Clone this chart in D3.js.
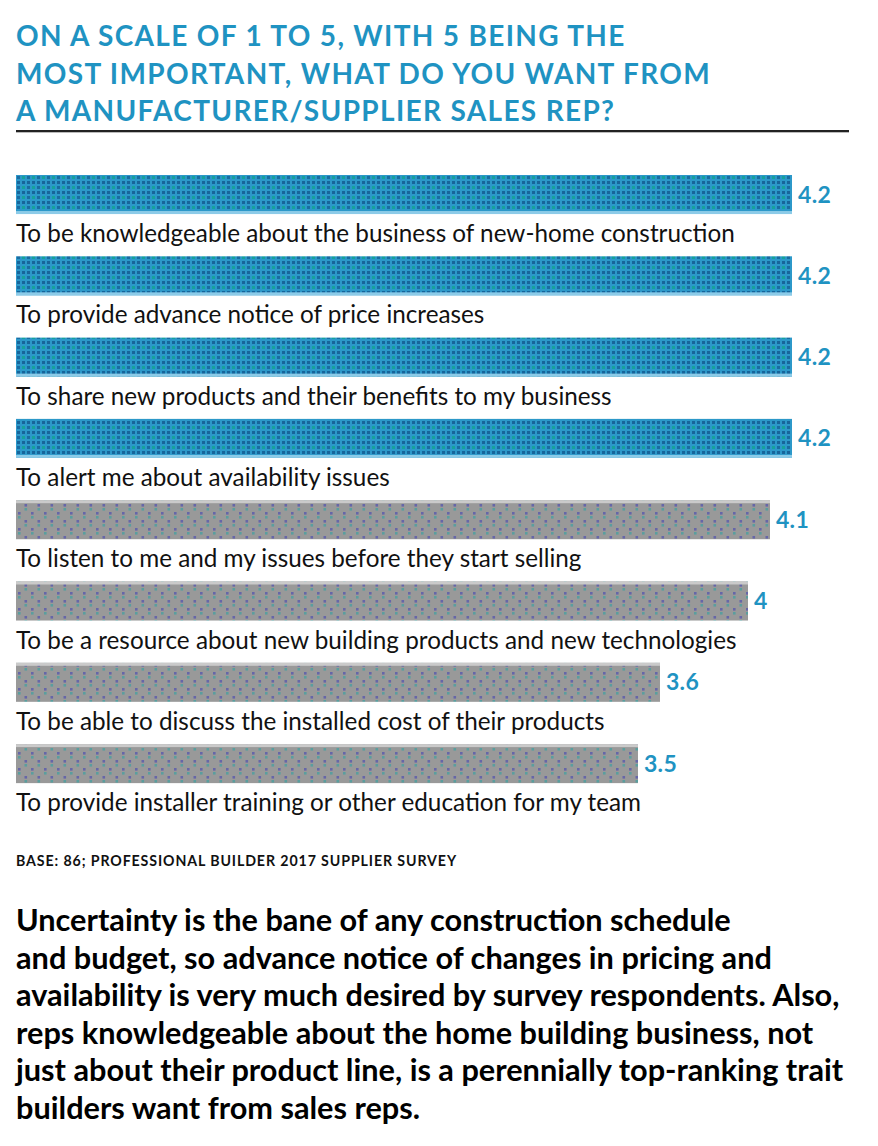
<!DOCTYPE html>
<html><head><meta charset="utf-8">
<script src="https://cdn.jsdelivr.net/npm/d3@7/dist/d3.min.js"></script>
<style>
html,body{margin:0;padding:0;background:#fff;}
svg{display:block;}
</style></head>
<body>
<script>
const titleLines = [
  "ON A SCALE OF 1 TO 5, WITH 5 BEING THE",
  "MOST IMPORTANT, WHAT DO YOU WANT FROM",
  "A MANUFACTURER/SUPPLIER SALES REP?"
];
const categories = [
  "To be knowledgeable about the business of new-home construction",
  "To provide advance notice of price increases",
  "To share new products and their benefits to my business",
  "To alert me about availability issues",
  "To listen to me and my issues before they start selling",
  "To be a resource about new building products and new technologies",
  "To be able to discuss the installed cost of their products",
  "To provide installer training or other education for my team"
];
const values = [4.2, 4.2, 4.2, 4.2, 4.1, 4.0, 3.6, 3.5];
const valueLabels = ["4.2", "4.2", "4.2", "4.2", "4.1", "4", "3.6", "3.5"];
const highlighted = [true, true, true, true, false, false, false, false];
const sourceNote = "BASE: 86; PROFESSIONAL BUILDER 2017 SUPPLIER SURVEY";
const paragraphLines = [
  "Uncertainty is the bane of any construction schedule",
  "and budget, so advance notice of changes in pricing and",
  "availability is very much desired by survey respondents. Also,",
  "reps knowledgeable about the home building business, not",
  "just about their product line, is a perennially top-ranking trait",
  "builders want from sales reps."
];

const W = 878, H = 1146;
const svg = d3.select("body").append("svg").attr("width", W).attr("height", H);
const defs = svg.append("defs");

// blue pattern
const pb = defs.append("pattern").attr("id", "pBlue").attr("patternUnits", "userSpaceOnUse")
  .attr("width", 10).attr("height", 10).attr("x", 16).attr("y", 0);
pb.append("rect").attr("width", 10).attr("height", 10).attr("fill", "#2c98c9");
[[1,1,"#17659b"],[6,1,"#17659b"],[1,6,"#1a6ca2"],[6,6,"#15a29c"]].forEach(([x,y,c]) =>
  pb.append("rect").attr("x", x).attr("y", y).attr("width", 3).attr("height", 3).attr("fill", c));

// gray pattern
const pg = defs.append("pattern").attr("id", "pGray").attr("patternUnits", "userSpaceOnUse")
  .attr("width", 13).attr("height", 16).attr("x", 18).attr("y", 0);
pg.append("rect").attr("width", 13).attr("height", 16).attr("fill", "#999999");
[[0,0,"#6666a8"],[0,4,"#5a9e9e"],[6.5,8,"#6666a8"],[6.5,12,"#5a9e9e"]].forEach(([x,y,c]) =>
  pg.append("rect").attr("x", x).attr("y", y).attr("width", 2.6).attr("height", 2.6).attr("fill", c));

const left = 16;
const blue = "#1f93c2";

// Title
const title = svg.append("g");
title.selectAll("text").data(titleLines).join("text")
  .attr("x", left).attr("y", (d, i) => 46 + i * 37.5)
  .attr("font-family", "Lato, 'Open Sans', sans-serif")
  .attr("font-weight", 700).attr("font-size", 28)
  .attr("letter-spacing", 1.6)
  .attr("fill", blue).text(d => d);

svg.append("line").attr("x1", left).attr("x2", 849).attr("y1", 131).attr("y2", 131)
  .attr("stroke", "#222").attr("stroke-width", 2);
svg.append("line").attr("x1", left).attr("x2", 849).attr("y1", 132.5).attr("y2", 132.5)
  .attr("stroke", "#bbb").attr("stroke-width", 1);

// Scales
const x = d3.scaleLinear().domain([0.673, 4.2]).range([left, 792]);
const n = categories.length;
const step = 81.3;
const y = d3.scaleBand().domain(categories)
  .range([175 - 0.26 * step, 175 - 0.26 * step + n * step])
  .paddingInner(0.52).paddingOuter(0.26);
const bh = y.bandwidth();

const rows = svg.append("g").selectAll("g").data(categories).join("g");
rows.append("rect")
  .attr("x", x(x.domain()[0])).attr("y", d => y(d))
  .attr("width", (d, i) => x(values[i]) - x(x.domain()[0]))
  .attr("height", bh)
  .attr("fill", (d, i) => highlighted[i] ? "url(#pBlue)" : "url(#pGray)");
// edge strips
rows.append("rect")
  .attr("x", x(x.domain()[0]))
  .attr("y", (d, i) => highlighted[i] ? y(d) + bh - 3 : y(d))
  .attr("width", (d, i) => x(values[i]) - x(x.domain()[0]))
  .attr("height", 3)
  .attr("fill", (d, i) => highlighted[i] ? "#8ccbe8" : "#cacaca");

rows.append("text")
  .attr("x", (d, i) => x(values[i]) + 6)
  .attr("y", d => y(d) + bh / 2 + 8)
  .attr("font-family", "Lato, sans-serif").attr("font-weight", 700)
  .attr("font-size", 23).attr("letter-spacing", 0.3).attr("fill", blue)
  .text((d, i) => valueLabels[i]);

const catText = rows.append("text")
  .attr("x", left).attr("y", d => y(d) + bh + 28)
  .attr("font-family", "Lato, sans-serif").attr("font-weight", 400)
  .attr("font-size", 21.5).attr("fill", "#111")
  .text(d => d);

// fit category font to reference width of first label
{
  const w0 = catText.nodes()[0].getComputedTextLength();
  const fs = 21.5 * (719 / w0);
  catText.attr("font-size", fs);
}

const note = svg.append("text").attr("x", left).attr("y", 866)
  .attr("font-family", "Lato, sans-serif").attr("font-weight", 700)
  .attr("font-size", 14.2).attr("letter-spacing", 0.6).attr("fill", "#111")
  .text(sourceNote);
{
  const w = note.node().getComputedTextLength();
  note.attr("letter-spacing", 0.6 + (441 - w) / sourceNote.length);
}

const para = svg.append("g").selectAll("text").data(paragraphLines).join("text")
  .attr("x", left).attr("y", (d, i) => 931 + i * 37.6)
  .attr("font-family", "Lato, sans-serif").attr("font-weight", 700)
  .attr("font-size", 25).attr("fill", "#000").text(d => d);
{
  const w = para.nodes()[2].getComputedTextLength();
  para.attr("font-size", 25 * (824 / w));
}
// fit title letter spacing to reference width of line 2
{
  const t = title.selectAll("text").nodes();
  const w = t[1].getComputedTextLength();
  const chars = titleLines[1].length;
  const ls = 1.6 + (695 - w) / chars;
  title.selectAll("text").attr("letter-spacing", ls);
}
</script>
</body></html>
